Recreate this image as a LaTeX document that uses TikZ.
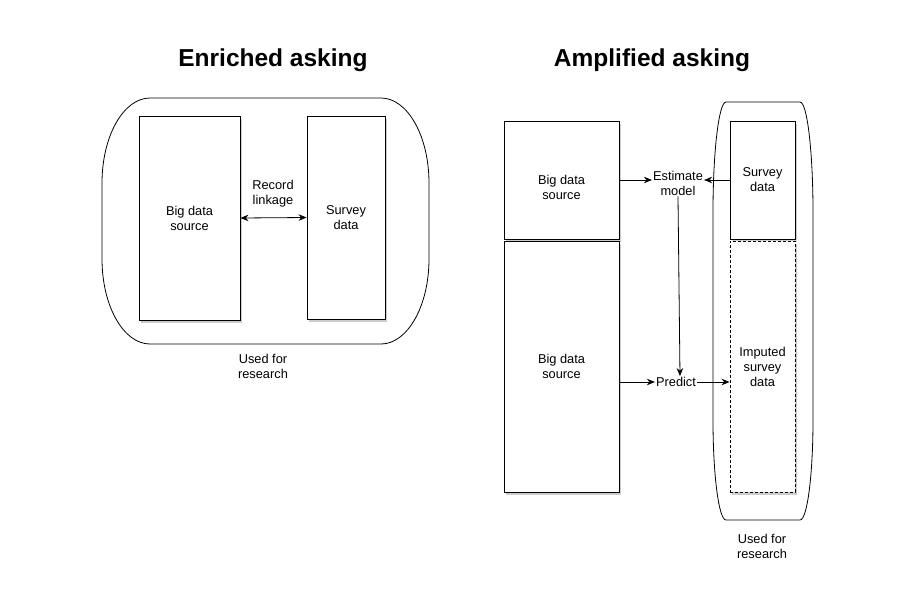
\documentclass[tikz,border=0pt]{standalone}
\usepackage{fontspec}
\setmainfont{Liberation Sans}
\usetikzlibrary{arrows.meta,shadows}
\begin{document}
\begin{tikzpicture}[x=1pt,y=-1pt,
  box/.style={draw, line width=0.9pt, fill=white, inner sep=0pt,
    drop shadow={shadow xshift=2pt, shadow yshift=-3pt, opacity=0.4}},
  lbl/.style={font=\fontsize{12.8}{15}\selectfont, align=center, inner sep=1pt},
  ttl/.style={font=\fontsize{24.5}{28}\selectfont\bfseries},
  arr/.style={line width=0.8pt, -{Stealth[length=8pt,width=6.5pt]}},
  outer/.style={draw, line width=0.8pt}]
\useasboundingbox (0,0) rectangle (922,598);
% titles
\node[ttl] (t1) at (273,60) {Enriched asking};
\node[ttl] (t2) at (652,60) {Amplified asking};
% left outer shape
\draw[outer] (150,98) -- (381,98)
  .. controls (407.5,98) and (429,136.1) .. (429,183)
  -- (429,259)
  .. controls (429,305.9) and (407.5,344) .. (381,344)
  -- (150,344)
  .. controls (123.5,344) and (102,305.9) .. (102,259)
  -- (102,183)
  .. controls (102,136.1) and (123.5,98) .. (150,98) -- cycle;
\node[box, minimum width=101pt, minimum height=204pt] (bd1) at (189.5,218) {};
\node[lbl] at (bd1) {Big data\\source};
\node[box, minimum width=78pt, minimum height=203pt] (sv1) at (346,217.5) {};
\node[lbl] at (sv1) {Survey\\data};
\draw[line width=0.8pt, {Stealth[length=8pt,width=6.5pt]}-{Stealth[length=8pt,width=6.5pt]}] (bd1.east) -- (sv1.west);
\node[lbl] (rl) at (273,194) {Record\\linkage};
\node[lbl] (u1) at (263,366) {Used for\\research};
% right outer shape
\draw[outer] (726,102) -- (800,102)
  .. controls (807.2,102) and (813,151.7) .. (813,212)
  -- (813,420)
  .. controls (813,475.2) and (807.2,520) .. (800,520)
  -- (726,520)
  .. controls (718.8,520) and (713,475.2) .. (713,420)
  -- (713,212)
  .. controls (713,151.7) and (718.8,102) .. (726,102) -- cycle;
\node[box, minimum width=115pt, minimum height=118pt] (bd2) at (561.5,180) {};
\node[lbl] at (561.5,187) {Big data\\source};
\node[box, minimum width=115pt, minimum height=251pt] (bd3) at (561.5,366.5) {};
\node[lbl] at (bd3) {Big data\\source};
\node[box, minimum width=65pt, minimum height=118pt] (sv2) at (762.5,180) {};
\node[lbl] at (sv2) {Survey\\data};
\node[box, dashed, dash pattern=on 3pt off 2pt, minimum width=65pt, minimum height=251pt] (imp) at (762.5,366.5) {};
\node[lbl] at (imp) {Imputed\\survey\\data};
\node[lbl] (est) at (678,183) {Estimate\\model};
\node[lbl] (pred) at (676,382) {Predict};
\draw[arr] (bd2.east) -- (bd2.east -| est.west);
\draw[arr] (sv2.west) -- (sv2.west -| est.east);
\draw[arr] (est.south) -- (pred.north -| 680,0);
\draw[arr] (bd3.east |- pred) -- (pred.west);
\draw[arr] (pred.east) -- (imp.west |- pred);
\node[lbl] (u2) at (762,546) {Used for\\research};
\end{tikzpicture}
\end{document}
